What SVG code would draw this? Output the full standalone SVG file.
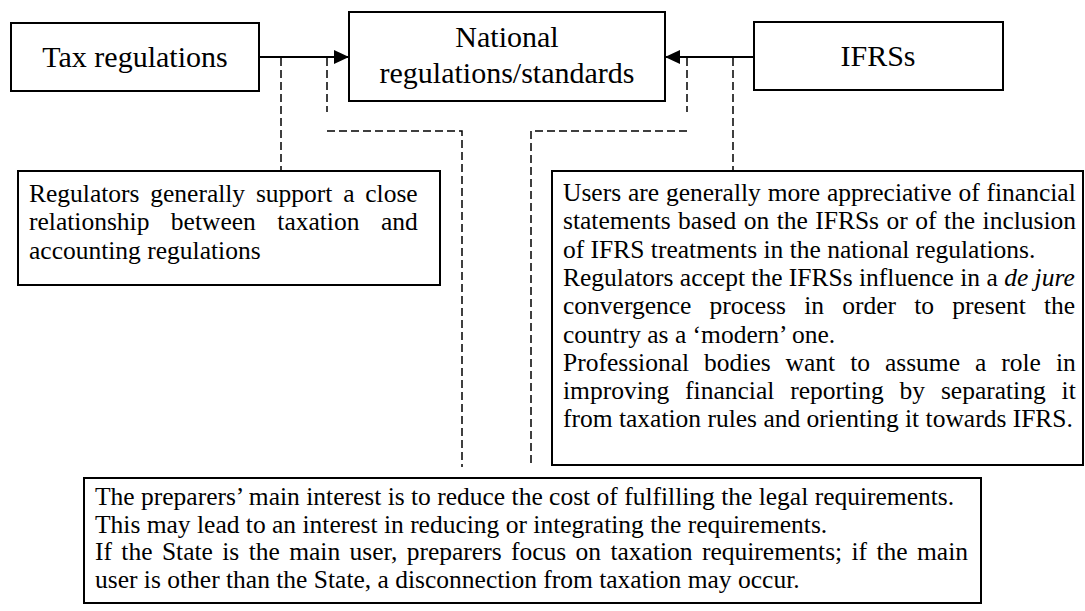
<svg xmlns="http://www.w3.org/2000/svg" width="1085" height="611" viewBox="0 0 1085 611">
<style>
.box{fill:#fff;stroke:#000;stroke-width:2}
.title{font-family:"Liberation Serif","Times New Roman",serif;font-size:30px;fill:#000;text-anchor:middle}
.body{font-family:"Liberation Serif","Times New Roman",serif;font-size:25.5px;fill:#000}
.solid{stroke:#000;stroke-width:2;fill:none}
.dash{stroke:#000;stroke-width:1.5;fill:none;stroke-dasharray:8 4}
</style>
<defs>
<marker id="ah" markerUnits="userSpaceOnUse" markerWidth="16" markerHeight="14" refX="15" refY="7" orient="auto">
<path d="M0,0 L15,7 L0,14 z" fill="#000"/>
</marker>
</defs>
<rect width="1085" height="611" fill="#fff"/>
<g id="connectors">
<line class="solid" x1="259" y1="57" x2="349" y2="57" marker-end="url(#ah)"/>
<line class="solid" x1="754" y1="57" x2="665" y2="57" marker-end="url(#ah)"/>
<line class="dash" x1="281" y1="58" x2="281" y2="171"/>
<line class="dash" x1="327" y1="58" x2="327" y2="112"/>
<polyline class="dash" points="327,131 462,131 462,467"/>
<line class="dash" x1="687" y1="58" x2="687" y2="112"/>
<polyline class="dash" points="687,131 531,131 531,467"/>
<line class="dash" x1="733" y1="58" x2="733" y2="171"/>
</g>
<g id="tax">
<rect class="box" x="11" y="23" width="248" height="68"/>
<text class="title" x="135" y="67">Tax regulations</text>
</g>
<g id="national">
<rect class="box" x="349" y="12" width="316" height="89"/>
<text class="title" x="507" y="47">National</text>
<text class="title" x="507" y="83">regulations/standards</text>
</g>
<g id="ifrs">
<rect class="box" x="754" y="22" width="249" height="68"/>
<text class="title" x="878" y="66">IFRSs</text>
</g>
<g id="regulators">
<rect class="box" x="18" y="171" width="422" height="114"/>
<text class="body" x="29" y="202" style="word-spacing:4.4px">Regulators generally support a close</text>
<text class="body" x="29" y="230.3" style="word-spacing:15.1px">relationship between taxation and</text>
<text class="body" x="29" y="258.6">accounting regulations</text>
</g>
<g id="users">
<rect class="box" x="552" y="171" width="531" height="294"/>
<text class="body" x="563" y="201" style="word-spacing:0.5px">Users are generally more appreciative of financial</text>
<text class="body" x="563" y="229.3" style="word-spacing:1.1px">statements based on the IFRSs or of the inclusion</text>
<text class="body" x="563" y="257.6">of IFRS treatments in the national regulations.</text>
<text class="body" x="563" y="285.9">Regulators accept the IFRSs influence in a <tspan font-style="italic">de jure</tspan></text>
<text class="body" x="563" y="314.2" style="word-spacing:11.8px">convergence process in order to present the</text>
<text class="body" x="563" y="342.5">country as a ‘modern’ one.</text>
<text class="body" x="563" y="370.8" style="word-spacing:8.6px">Professional bodies want to assume a role in</text>
<text class="body" x="563" y="399.1" style="word-spacing:9.5px">improving financial reporting by separating it</text>
<text class="body" x="563" y="427.4">from taxation rules and orienting it towards IFRS.</text>
</g>
<g id="preparers">
<rect class="box" x="84" y="478" width="897" height="125"/>
<text class="body" x="95" y="505">The preparers’ main interest is to reduce the cost of fulfilling the legal requirements.</text>
<text class="body" x="95" y="532.5">This may lead to an interest in reducing or integrating the requirements.</text>
<text class="body" x="95" y="560" style="word-spacing:3px">If the State is the main user, preparers focus on taxation requirements; if the main</text>
<text class="body" x="95" y="587.5">user is other than the State, a disconnection from taxation may occur.</text>
</g>
</svg>
